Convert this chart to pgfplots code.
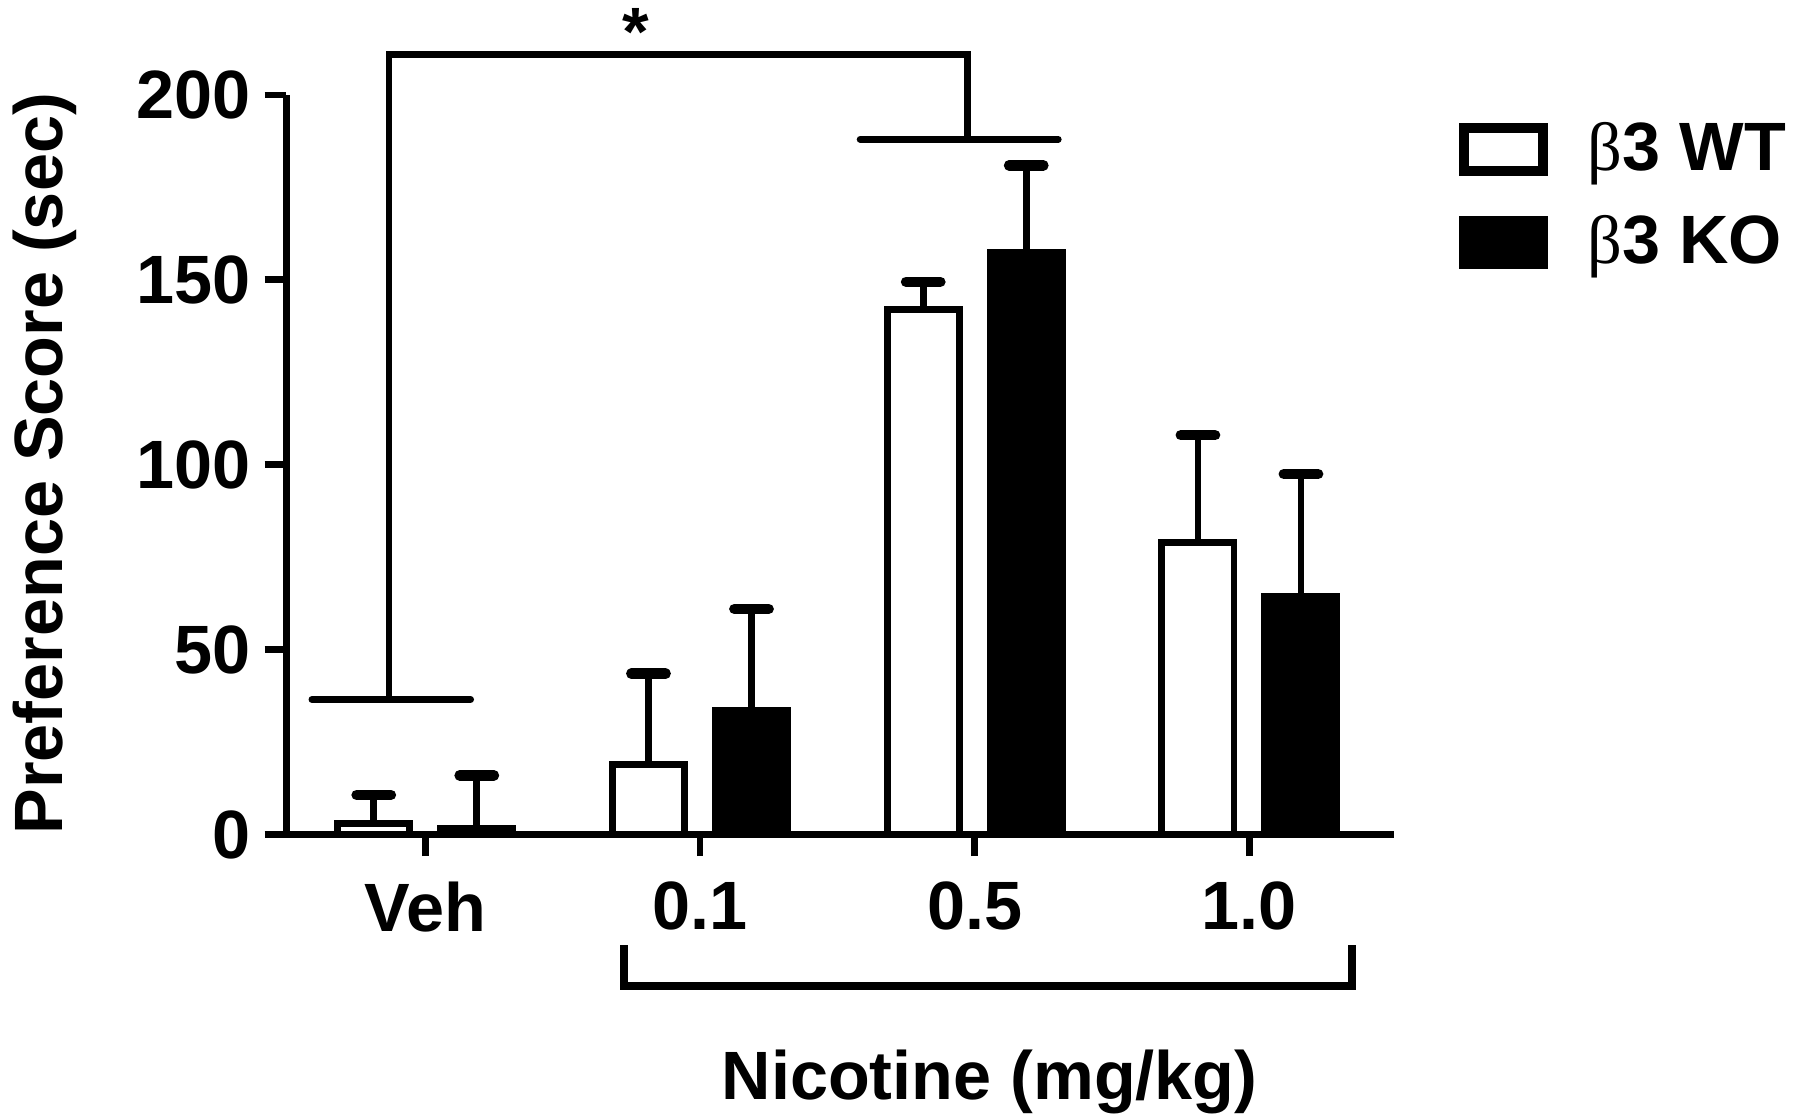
\documentclass[border=0pt]{standalone}
\usepackage{fontspec}
\setmainfont{Liberation Sans}
\newfontfamily\betafont{Liberation Serif}
\usepackage{pgfplots}
\pgfplotsset{compat=1.18}
\newcommand\lab{\fontsize{17}{20}\selectfont\bfseries}

\pgfplotsset{
  errs/.style={
    error bars/y dir=plus,
    error bars/y explicit,
    error bars/error mark=|,
    error bars/error bar style={line width=1.7pt, black},
    error bars/error mark options={line width=2.6pt, mark size=1.5mm, line cap=round, black},
  },
}

\begin{document}
\begin{tikzpicture}
\begin{axis}[
  scale only axis, width=96.75mm, height=64.6mm,
  xmin=-0.506, xmax=3.525, ymin=0, ymax=200,
  axis x line*=bottom, axis y line*=left,
  axis line style={line width=1.7pt},
  every tick/.style={black, line width=1.7pt},
  tick align=outside, major tick length=1.9mm,
  xtick={0,1,2,3}, xticklabels={Veh,0.1,0.5,1.0},
  ytick={0,50,100,150,200},
  /pgf/number format/assume math mode=true,
  tick label style={font=\lab},
  xticklabel style={yshift=-1mm},
  ylabel={Preference Score (sec)},
  ylabel style={at={(rel axis cs:-0.2176,0.5015)}, anchor=center, font=\lab},
  ybar, bar width=6.3mm,
  clip=false,
  legend style={at={(rel axis cs:1.058,0.975)}, anchor=north west, draw=none, fill=none,
    font=\lab, row sep=2mm, inner sep=0pt,
    /tikz/every odd column/.append style={column sep=2.8mm}},
  legend cell align=left,
]

% WT (open bars)
\addplot[draw=black, fill=white, line width=1.7pt, bar shift=-4.5mm, errs,
  legend image code/.code={\draw[line width=2.5pt, fill=white] (0mm,-1.85mm) rectangle (6.9mm,1.85mm);}]
  coordinates {(0,3) +- (0,7.7) (1,19) +- (0,24.5) (2,142) +- (0,7.5) (3,79) +- (0,29)};
\addlegendentry{{\betafont\mdseries β}3 WT}

% KO (filled bars)
\addplot[draw=black, fill=black, line width=1.7pt, bar shift=4.5mm, errs,
  legend image code/.code={\draw[line width=2.5pt, fill=black] (0mm,-1.85mm) rectangle (6.9mm,1.85mm);}]
  coordinates {(0,1.5) +- (0,14.5) (1,33.5) +- (0,27.5) (2,157.5) +- (0,23.5) (3,64.5) +- (0,33)};
\addlegendentry{{\betafont\mdseries β}3 KO}

% significance bracket
\draw[line width=1.7pt, line cap=round] (axis cs:-0.4125,36.5) -- (axis cs:0.165,36.5);
\draw[line width=1.7pt, line cap=round] (axis cs:1.583,188) -- (axis cs:2.304,188);
\draw[line width=1.7pt] (axis cs:-0.132,36.5) -- (axis cs:-0.132,211) -- (axis cs:1.975,211) -- (axis cs:1.975,188);
\node[font=\lab, anchor=base, inner sep=0pt] at (axis cs:0.767,210.6) {*};

% nicotine bracket
\draw[line width=2pt] (axis cs:0.725,-30) -- (axis cs:0.725,-41) -- (axis cs:3.375,-41) -- (axis cs:3.375,-30);
\node[font=\lab, anchor=base, inner sep=0pt] at (axis cs:2.054,-71.6) {Nicotine (mg/kg)};

\path (axis cs:-1.529,-76.8) rectangle (axis cs:5.004,225.7);
\end{axis}
\end{tikzpicture}
\end{document}
